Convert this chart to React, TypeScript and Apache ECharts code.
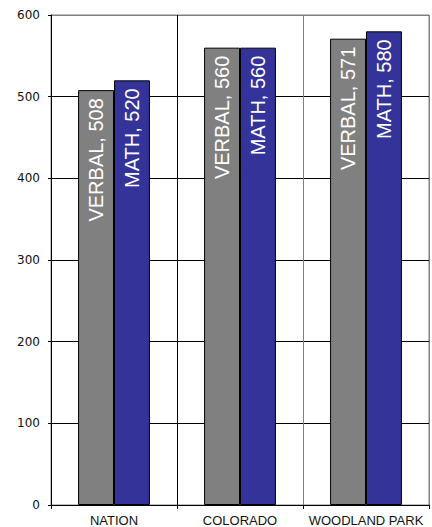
import React, { useEffect, useRef } from "react";
import * as echarts from "echarts";

const categories = ["NATION", "COLORADO", "WOODLAND PARK"];
const verbal = [508, 560, 571];
const math = [520, 560, 580];
const seriesNames = ["VERBAL", "MATH"];
const yTicks = { min: 0, max: 600, interval: 100 };

export default function App() {
  const ref = useRef<HTMLDivElement>(null);
  useEffect(() => {
    document.body.style.margin = "0";
    const chart = echarts.init(ref.current!, null, { renderer: "svg" });
    const label = {
      show: true,
      position: "insideTop",
      rotate: 90,
      align: "right",
      verticalAlign: "middle",
      distance: 8,
      color: "#fff",
      fontFamily: "Liberation Sans, Arial, sans-serif",
      fontSize: 20,
      formatter: (p: any) => `${p.seriesName}, ${p.value}`,
    };
    chart.setOption({
      animation: false,
      backgroundColor: "#fff",
      grid: {
        left: 51,
        right: 3,
        top: 15,
        bottom: 21,
        show: true,
        borderColor: "#808080",
        borderWidth: 1,
      },
      xAxis: {
        type: "category",
        data: categories,
        boundaryGap: true,
        axisLine: { show: true, lineStyle: { color: "#000", width: 1 } },
        axisTick: { show: true, interval: 0, length: 4, lineStyle: { color: "#000" } },
        axisLabel: {
          interval: 0,
          margin: 9,
          color: "#111",
          fontSize: 13,
          fontFamily: "Liberation Sans, Arial, sans-serif",
        },
        splitLine: {
          show: true,
          interval: 0,
          lineStyle: { color: ["#000", "#000", "#808080", "#808080"], width: 1 },
        },
      },
      yAxis: {
        type: "value",
        min: yTicks.min,
        max: yTicks.max,
        interval: yTicks.interval,
        axisLine: { show: true, lineStyle: { color: "#000", width: 1 } },
        axisTick: { show: true, length: 3, lineStyle: { color: "#000" } },
        axisLabel: {
          margin: 11,
          color: "#111",
          fontSize: 12,
          fontFamily: "DejaVu Sans, sans-serif",
        },
        splitLine: {
          show: true,
          lineStyle: {
            color: ["#000", "#000", "#000", "#000", "#000", "#000", "#808080"],
            width: 1,
          },
        },
      },
      series: [
        {
          name: seriesNames[0],
          type: "bar",
          data: verbal,
          barGap: "0%",
          barCategoryGap: "43%",
          itemStyle: { color: "#808080", borderColor: "#000", borderWidth: 1 },
          label,
        },
        {
          name: seriesNames[1],
          type: "bar",
          data: math,
          barGap: "0%",
          barCategoryGap: "43%",
          itemStyle: { color: "#333399", borderColor: "#000", borderWidth: 1 },
          label,
        },
      ],
    });
    return () => chart.dispose();
  }, []);
  return <div ref={ref} style={{ width: 432, height: 527 }} />;
}
